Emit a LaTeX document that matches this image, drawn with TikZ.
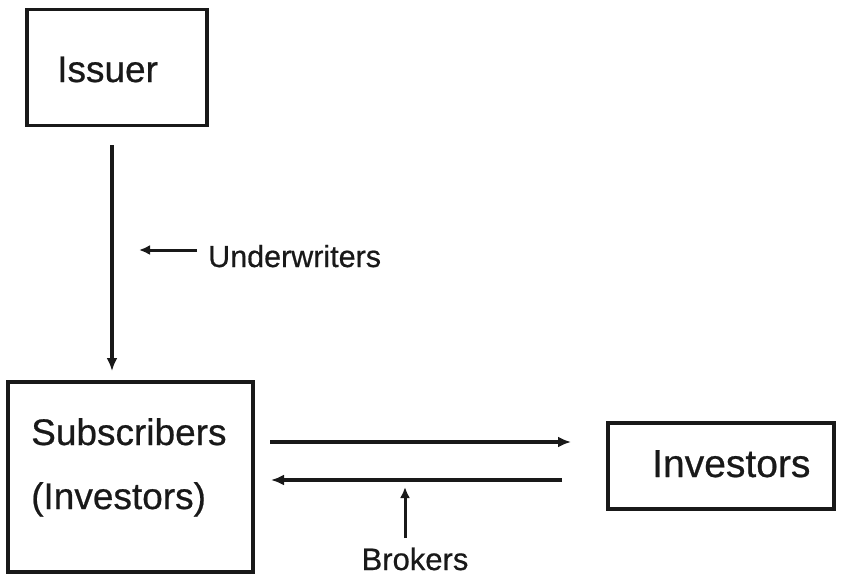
\documentclass[tikz,border=0pt]{standalone}
\usepackage{fontspec}
\setmainfont[FakeBold=0.6]{Liberation Sans}
\usetikzlibrary{arrows.meta,calc}
\begin{document}
\begin{tikzpicture}[x=1pt,y=-1pt,
  box/.style={draw=black!90,line width=3.4pt,inner sep=0pt},
  lbl/.style={inner sep=0pt,anchor=base west,text=black!90},
  arr/.style={line width=3.4pt,draw=black!90,-{Latex[length=13pt,width=11pt]}},
  thin arr/.style={line width=3pt,draw=black!90,-{Latex[length=11pt,width=10pt]}}]
\useasboundingbox (0,0) rectangle (846,579);
% boxes
\node[box,minimum width=180pt,minimum height=116pt] (issuer) at (117,67.5) {};
\node[box,minimum width=245pt,minimum height=190pt] (subs) at (130.5,477) {};
\node[box,minimum width=226pt,minimum height=86pt] (inv) at (721,466) {};
% texts
\node[lbl,font=\fontsize{37}{40}\selectfont] (tissuer) at (57,82) {Issuer};
\node[lbl,font=\fontsize{37}{40}\selectfont] (tsubs) at (31,445) {Subscribers};
\node[lbl,font=\fontsize{37}{40}\selectfont] (tsubs2) at (31,509) {(Investors)};
\node[lbl,font=\fontsize{39}{42}\selectfont] (tinv) at (652,477) {Investors};
\node[lbl,font=\fontsize{30.5}{34}\selectfont] (tunder) at (208,267) {Underwriters};
\node[lbl,font=\fontsize{31}{34}\selectfont,anchor=base] (tbrok) at (415,570) {Brokers};
% connector points
\coordinate (v1) at (112,145);
\coordinate (v2) at (112,371);
\coordinate (u1) at (197,250);
\coordinate (u2) at (139,250);
\coordinate (h1a) at (270,442);
\coordinate (h1b) at (571,442);
\coordinate (h2a) at (562,480);
\coordinate (h2b) at (271,480);
\coordinate (b1) at (405,538);
\coordinate (b2) at (405,487);
% arrows
\draw[arr] (v1) -- (v2);
\draw[thin arr] (u1) -- (u2);
\draw[arr] (h1a) -- (h1b);
\draw[arr] (h2a) -- (h2b);
\draw[thin arr] (b1) -- (b2);
\end{tikzpicture}
\end{document}
